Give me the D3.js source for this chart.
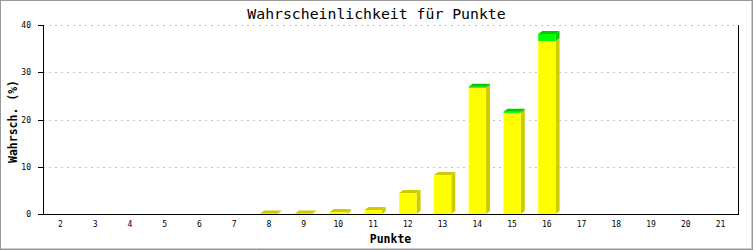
<!DOCTYPE html>
<html>
<head>
<meta charset="utf-8">
<script src="https://cdn.jsdelivr.net/npm/d3@7"></script>
<style>
body{margin:0;background:#fff;}
svg text{font-family:"DejaVu Sans Mono",monospace;fill:#000;}
</style>
</head>
<body>
<div id="chart"></div>
<script>
const width=753;
const height=250;
const margin={top:25,right:15,bottom:36,left:43};
const categories=["2","3","4","5","6","7","8","9","10","11","12","13","14","15","16","17","18","19","20","21"];
const yellowvals=[0,0,0,0,0,0,0.12,0.12,0.4,0.85,4.45,8.25,26.7,21.4,36.6,0,0,0,0,0];
const greenvals=[0,0,0,0,0,0,0,0,0,0,0,0,0.25,0.25,1.5,0,0,0,0,0];
const yticks=[0,10,20,30,40];
const depth={dx:4,dy:3};

const svg=d3.select("#chart").append("svg")
    .attr("width",width).attr("height",height);
svg.append("rect").attr("x",0.5).attr("y",0.5).attr("width",width-1.5).attr("height",height-1.5)
    .attr("fill","#fff").attr("stroke","#999");
svg.append("line").attr("x1",0).attr("x2",width).attr("y1",height-0.5).attr("y2",height-0.5).attr("stroke","#999");
svg.append("line").attr("x1",width-0.5).attr("x2",width-0.5).attr("y1",0).attr("y2",height).attr("stroke","#999");

const x=d3.scaleBand().domain(categories).range([margin.left,width-margin.right]).paddingInner(0.5).paddingOuter(0.25);
const y=d3.scaleLinear().domain([0,40]).range([height-margin.bottom,margin.top]);
const x0=margin.left, x1=width-margin.right, ybase=y(0);

// grid
svg.append("g").selectAll("line").data(yticks.filter(d=>d>0)).enter().append("line")
    .attr("x1",x0).attr("x2",x1)
    .attr("y1",d=>Math.round(y(d))+0.5).attr("y2",d=>Math.round(y(d))+0.5)
    .attr("stroke","#c0c0c0").attr("stroke-dasharray","2,4");

// bars
const stack=categories.map((c,i)=>({c,yel:yellowvals[i],grn:greenvals[i]}));
const bars=svg.append("g").selectAll("g").data(stack.filter(d=>d.yel+d.grn>0)).enter().append("g");
function segment(g,lo,hi,front,dark,top){
    g.each(function(d){
        const el=d3.select(this);
        const a=x(d.c), w=x.bandwidth();
        const yl=y(lo(d)), yh=y(hi(d));
        if (yl-yh>0) {
            el.append("polygon")
                .attr("points",[[a+w,yh],[a+w+depth.dx,yh-depth.dy],[a+w+depth.dx,yl-depth.dy],[a+w,yl]].join(" "))
                .attr("fill",dark);
            el.append("rect").attr("x",a).attr("y",yh).attr("width",w).attr("height",yl-yh).attr("fill",front);
        }
        if (top(d)) {
            el.append("polygon")
                .attr("points",[[a,yh],[a+depth.dx,yh-depth.dy],[a+w+depth.dx,yh-depth.dy],[a+w,yh]].join(" "))
                .attr("fill",dark);
        }
    });
}
segment(bars,d=>0,d=>d.yel,"#ffff00","#cccc00",d=>d.grn===0);
segment(bars.filter(d=>d.grn>0),d=>d.yel,d=>d.yel+d.grn,"#00ff00","#00cc00",d=>true);

// axes
svg.append("line").attr("x1",x0+0.5).attr("x2",x0+0.5).attr("y1",margin.top).attr("y2",ybase).attr("stroke","#000");
svg.append("line").attr("x1",x1+0.5).attr("x2",x1+0.5).attr("y1",margin.top).attr("y2",ybase).attr("stroke","#000");
svg.append("line").attr("x1",x0).attr("x2",x1+1).attr("y1",ybase+0.5).attr("y2",ybase+0.5).attr("stroke","#000");

const yaxis=svg.append("g");
yaxis.selectAll("line").data(yticks).enter().append("line")
    .attr("x1",x0-5).attr("x2",x0)
    .attr("y1",d=>Math.round(y(d))+0.5).attr("y2",d=>Math.round(y(d))+0.5).attr("stroke","#000");
yaxis.selectAll("text").data(yticks).enter().append("text")
    .attr("x",x0-12).attr("y",d=>y(d)+3).attr("text-anchor","end")
    .style("font-size","8px").text(d=>d);

svg.append("g").selectAll("text").data(categories).enter().append("text")
    .attr("x",d=>x(d)+x.bandwidth()/2).attr("y",ybase+13).attr("text-anchor","middle")
    .style("font-size","8px").text(d=>d);

svg.append("text").attr("x",width/2).attr("y",19).attr("text-anchor","middle")
    .style("font-size","14.8px").text("Wahrscheinlichkeit für Punkte");
svg.append("text").attr("x",(x0+x1)/2).attr("y",243).attr("text-anchor","middle")
    .style("font-size","11.5px").style("font-weight","bold").text("Punkte");
svg.append("text").attr("transform",`translate(17,${(margin.top+ybase)/2+2}) rotate(-90)`)
    .attr("text-anchor","middle").style("font-size","11.5px").style("font-weight","bold").text("Wahrsch. (%)");
</script>
</body>
</html>
